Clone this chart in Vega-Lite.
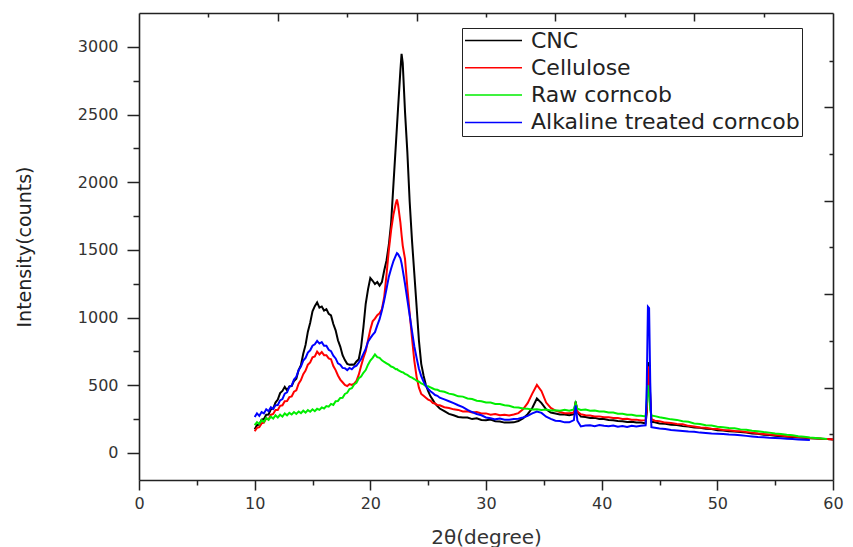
{
  "$schema": "https://vega.github.io/schema/vega-lite/v6.json",
  "width": 694,
  "height": 467,
  "autosize": "none",
  "padding": {"left": 139, "top": 13, "right": 20, "bottom": 67},
  "background": "white",
  "config": {"view": {"stroke": null}, "font": "DejaVu Sans"},
  "data": {"values": [
    {"x":10.0,"CNC":175,"Cellulose":160,"Raw corncob":205,"Alkaline treated corncob":265},
    {"x":10.2,"CNC":205,"Cellulose":185,"Raw corncob":228,"Alkaline treated corncob":292},
    {"x":10.4,"CNC":210,"Cellulose":190,"Raw corncob":214,"Alkaline treated corncob":274},
    {"x":10.6,"CNC":246,"Cellulose":218,"Raw corncob":242,"Alkaline treated corncob":302},
    {"x":10.8,"CNC":250,"Cellulose":224,"Raw corncob":230,"Alkaline treated corncob":292},
    {"x":11.0,"CNC":282,"Cellulose":256,"Raw corncob":258,"Alkaline treated corncob":322},
    {"x":11.2,"CNC":284,"Cellulose":248,"Raw corncob":244,"Alkaline treated corncob":308},
    {"x":11.4,"CNC":322,"Cellulose":282,"Raw corncob":268,"Alkaline treated corncob":338},
    {"x":11.6,"CNC":328,"Cellulose":288,"Raw corncob":254,"Alkaline treated corncob":324},
    {"x":11.8,"CNC":372,"Cellulose":318,"Raw corncob":278,"Alkaline treated corncob":352},
    {"x":12.0,"CNC":394,"Cellulose":318,"Raw corncob":262,"Alkaline treated corncob":354},
    {"x":12.2,"CNC":442,"Cellulose":348,"Raw corncob":282,"Alkaline treated corncob":388},
    {"x":12.4,"CNC":458,"Cellulose":352,"Raw corncob":268,"Alkaline treated corncob":398},
    {"x":12.6,"CNC":488,"Cellulose":382,"Raw corncob":292,"Alkaline treated corncob":438},
    {"x":12.8,"CNC":462,"Cellulose":384,"Raw corncob":278,"Alkaline treated corncob":448},
    {"x":13.0,"CNC":492,"Cellulose":412,"Raw corncob":296,"Alkaline treated corncob":488},
    {"x":13.2,"CNC":494,"Cellulose":418,"Raw corncob":284,"Alkaline treated corncob":498},
    {"x":13.4,"CNC":532,"Cellulose":452,"Raw corncob":302,"Alkaline treated corncob":542},
    {"x":13.6,"CNC":548,"Cellulose":462,"Raw corncob":288,"Alkaline treated corncob":562},
    {"x":13.8,"CNC":612,"Cellulose":512,"Raw corncob":306,"Alkaline treated corncob":612},
    {"x":14.0,"CNC":648,"Cellulose":538,"Raw corncob":294,"Alkaline treated corncob":638},
    {"x":14.2,"CNC":732,"Cellulose":582,"Raw corncob":312,"Alkaline treated corncob":682},
    {"x":14.4,"CNC":798,"Cellulose":608,"Raw corncob":298,"Alkaline treated corncob":702},
    {"x":14.6,"CNC":896,"Cellulose":652,"Raw corncob":316,"Alkaline treated corncob":742},
    {"x":14.8,"CNC":962,"Cellulose":668,"Raw corncob":304,"Alkaline treated corncob":758},
    {"x":15.0,"CNC":1046,"Cellulose":706,"Raw corncob":322,"Alkaline treated corncob":792},
    {"x":15.2,"CNC":1084,"Cellulose":712,"Raw corncob":308,"Alkaline treated corncob":802},
    {"x":15.4,"CNC":1112,"Cellulose":748,"Raw corncob":326,"Alkaline treated corncob":828},
    {"x":15.6,"CNC":1074,"Cellulose":728,"Raw corncob":318,"Alkaline treated corncob":808},
    {"x":15.8,"CNC":1082,"Cellulose":746,"Raw corncob":336,"Alkaline treated corncob":818},
    {"x":16.0,"CNC":1052,"Cellulose":722,"Raw corncob":328,"Alkaline treated corncob":792},
    {"x":16.2,"CNC":1062,"Cellulose":722,"Raw corncob":346,"Alkaline treated corncob":792},
    {"x":16.4,"CNC":1028,"Cellulose":698,"Raw corncob":342,"Alkaline treated corncob":762},
    {"x":16.6,"CNC":1016,"Cellulose":692,"Raw corncob":362,"Alkaline treated corncob":752},
    {"x":16.8,"CNC":952,"Cellulose":642,"Raw corncob":354,"Alkaline treated corncob":718},
    {"x":17.0,"CNC":906,"Cellulose":612,"Raw corncob":382,"Alkaline treated corncob":698},
    {"x":17.2,"CNC":832,"Cellulose":572,"Raw corncob":384,"Alkaline treated corncob":662},
    {"x":17.4,"CNC":786,"Cellulose":542,"Raw corncob":406,"Alkaline treated corncob":652},
    {"x":17.6,"CNC":722,"Cellulose":522,"Raw corncob":408,"Alkaline treated corncob":628},
    {"x":17.8,"CNC":686,"Cellulose":502,"Raw corncob":436,"Alkaline treated corncob":626},
    {"x":18.0,"CNC":658,"Cellulose":494,"Raw corncob":444,"Alkaline treated corncob":612},
    {"x":18.2,"CNC":652,"Cellulose":508,"Raw corncob":472,"Alkaline treated corncob":628},
    {"x":18.4,"CNC":654,"Cellulose":502,"Raw corncob":478,"Alkaline treated corncob":618},
    {"x":18.6,"CNC":652,"Cellulose":512,"Raw corncob":506,"Alkaline treated corncob":636},
    {"x":18.8,"CNC":676,"Cellulose":532,"Raw corncob":518,"Alkaline treated corncob":644},
    {"x":19.0,"CNC":692,"Cellulose":578,"Raw corncob":552,"Alkaline treated corncob":668},
    {"x":19.2,"CNC":782,"Cellulose":642,"Raw corncob":564,"Alkaline treated corncob":694},
    {"x":19.4,"CNC":928,"Cellulose":702,"Raw corncob":592,"Alkaline treated corncob":732},
    {"x":19.6,"CNC":1102,"Cellulose":752,"Raw corncob":612,"Alkaline treated corncob":768},
    {"x":19.8,"CNC":1208,"Cellulose":832,"Raw corncob":652,"Alkaline treated corncob":822},
    {"x":20.0,"CNC":1292,"Cellulose":912,"Raw corncob":682,"Alkaline treated corncob":848},
    {"x":20.2,"CNC":1272,"Cellulose":972,"Raw corncob":702,"Alkaline treated corncob":872},
    {"x":20.4,"CNC":1248,"Cellulose":992,"Raw corncob":728,"Alkaline treated corncob":892},
    {"x":20.6,"CNC":1262,"Cellulose":1018,"Raw corncob":708,"Alkaline treated corncob":942},
    {"x":20.8,"CNC":1236,"Cellulose":1032,"Raw corncob":702,"Alkaline treated corncob":988},
    {"x":21.0,"CNC":1262,"Cellulose":1062,"Raw corncob":684,"Alkaline treated corncob":1052},
    {"x":21.2,"CNC":1348,"Cellulose":1152,"Raw corncob":672,"Alkaline treated corncob":1128},
    {"x":21.4,"CNC":1422,"Cellulose":1318,"Raw corncob":662,"Alkaline treated corncob":1212},
    {"x":21.6,"CNC":1538,"Cellulose":1498,"Raw corncob":652,"Alkaline treated corncob":1302},
    {"x":21.8,"CNC":1702,"Cellulose":1648,"Raw corncob":638,"Alkaline treated corncob":1362},
    {"x":22.0,"CNC":1988,"Cellulose":1762,"Raw corncob":632,"Alkaline treated corncob":1418},
    {"x":22.2,"CNC":2268,"Cellulose":1842,"Raw corncob":618,"Alkaline treated corncob":1458},
    {"x":22.3,"CNC":2410,"Cellulose":1872,"Raw corncob":620,"Alkaline treated corncob":1476},
    {"x":22.4,"CNC":2552,"Cellulose":1832,"Raw corncob":612,"Alkaline treated corncob":1468},
    {"x":22.6,"CNC":2828,"Cellulose":1702,"Raw corncob":602,"Alkaline treated corncob":1438},
    {"x":22.7,"CNC":2948,"Cellulose":1612,"Raw corncob":598,"Alkaline treated corncob":1402},
    {"x":22.8,"CNC":2882,"Cellulose":1532,"Raw corncob":596,"Alkaline treated corncob":1352},
    {"x":23.0,"CNC":2518,"Cellulose":1432,"Raw corncob":584,"Alkaline treated corncob":1248},
    {"x":23.2,"CNC":2222,"Cellulose":1222,"Raw corncob":576,"Alkaline treated corncob":1132},
    {"x":23.4,"CNC":1858,"Cellulose":1032,"Raw corncob":564,"Alkaline treated corncob":1018},
    {"x":23.6,"CNC":1572,"Cellulose":852,"Raw corncob":556,"Alkaline treated corncob":902},
    {"x":23.8,"CNC":1328,"Cellulose":682,"Raw corncob":546,"Alkaline treated corncob":788},
    {"x":24.0,"CNC":1082,"Cellulose":562,"Raw corncob":534,"Alkaline treated corncob":702},
    {"x":24.2,"CNC":832,"Cellulose":482,"Raw corncob":526,"Alkaline treated corncob":622},
    {"x":24.4,"CNC":658,"Cellulose":436,"Raw corncob":514,"Alkaline treated corncob":568},
    {"x":24.6,"CNC":572,"Cellulose":422,"Raw corncob":506,"Alkaline treated corncob":528},
    {"x":24.8,"CNC":502,"Cellulose":408,"Raw corncob":494,"Alkaline treated corncob":494},
    {"x":25.0,"CNC":456,"Cellulose":394,"Raw corncob":492,"Alkaline treated corncob":472},
    {"x":25.2,"CNC":418,"Cellulose":386,"Raw corncob":484,"Alkaline treated corncob":456},
    {"x":25.4,"CNC":392,"Cellulose":368,"Raw corncob":476,"Alkaline treated corncob":442},
    {"x":25.6,"CNC":364,"Cellulose":366,"Raw corncob":468,"Alkaline treated corncob":428},
    {"x":25.8,"CNC":346,"Cellulose":354,"Raw corncob":466,"Alkaline treated corncob":422},
    {"x":26.0,"CNC":328,"Cellulose":352,"Raw corncob":458,"Alkaline treated corncob":408},
    {"x":26.4,"CNC":308,"Cellulose":338,"Raw corncob":452,"Alkaline treated corncob":396},
    {"x":26.8,"CNC":288,"Cellulose":332,"Raw corncob":438,"Alkaline treated corncob":382},
    {"x":27.2,"CNC":278,"Cellulose":322,"Raw corncob":432,"Alkaline treated corncob":368},
    {"x":27.6,"CNC":266,"Cellulose":318,"Raw corncob":418,"Alkaline treated corncob":352},
    {"x":28.0,"CNC":262,"Cellulose":306,"Raw corncob":416,"Alkaline treated corncob":338},
    {"x":28.4,"CNC":262,"Cellulose":308,"Raw corncob":402,"Alkaline treated corncob":318},
    {"x":28.8,"CNC":250,"Cellulose":298,"Raw corncob":398,"Alkaline treated corncob":302},
    {"x":29.2,"CNC":256,"Cellulose":302,"Raw corncob":386,"Alkaline treated corncob":288},
    {"x":29.6,"CNC":244,"Cellulose":292,"Raw corncob":382,"Alkaline treated corncob":278},
    {"x":30.0,"CNC":242,"Cellulose":292,"Raw corncob":372,"Alkaline treated corncob":262},
    {"x":30.4,"CNC":246,"Cellulose":282,"Raw corncob":372,"Alkaline treated corncob":256},
    {"x":30.8,"CNC":234,"Cellulose":288,"Raw corncob":362,"Alkaline treated corncob":248},
    {"x":31.2,"CNC":232,"Cellulose":278,"Raw corncob":362,"Alkaline treated corncob":254},
    {"x":31.6,"CNC":224,"Cellulose":282,"Raw corncob":352,"Alkaline treated corncob":246},
    {"x":32.0,"CNC":224,"Cellulose":276,"Raw corncob":348,"Alkaline treated corncob":246},
    {"x":32.4,"CNC":226,"Cellulose":284,"Raw corncob":338,"Alkaline treated corncob":250},
    {"x":32.8,"CNC":236,"Cellulose":294,"Raw corncob":336,"Alkaline treated corncob":252},
    {"x":33.2,"CNC":254,"Cellulose":322,"Raw corncob":328,"Alkaline treated corncob":262},
    {"x":33.6,"CNC":286,"Cellulose":368,"Raw corncob":326,"Alkaline treated corncob":274},
    {"x":34.0,"CNC":332,"Cellulose":438,"Raw corncob":320,"Alkaline treated corncob":292},
    {"x":34.4,"CNC":402,"Cellulose":502,"Raw corncob":322,"Alkaline treated corncob":306},
    {"x":34.8,"CNC":368,"Cellulose":456,"Raw corncob":318,"Alkaline treated corncob":296},
    {"x":35.2,"CNC":322,"Cellulose":372,"Raw corncob":320,"Alkaline treated corncob":268},
    {"x":35.6,"CNC":298,"Cellulose":332,"Raw corncob":314,"Alkaline treated corncob":252},
    {"x":36.0,"CNC":292,"Cellulose":312,"Raw corncob":316,"Alkaline treated corncob":238},
    {"x":36.4,"CNC":284,"Cellulose":302,"Raw corncob":312,"Alkaline treated corncob":236},
    {"x":36.8,"CNC":284,"Cellulose":294,"Raw corncob":318,"Alkaline treated corncob":226},
    {"x":37.2,"CNC":278,"Cellulose":294,"Raw corncob":312,"Alkaline treated corncob":226},
    {"x":37.6,"CNC":286,"Cellulose":298,"Raw corncob":322,"Alkaline treated corncob":242},
    {"x":37.75,"CNC":380,"Cellulose":372,"Raw corncob":368,"Alkaline treated corncob":352},
    {"x":37.9,"CNC":302,"Cellulose":306,"Raw corncob":326,"Alkaline treated corncob":238},
    {"x":38.2,"CNC":268,"Cellulose":286,"Raw corncob":318,"Alkaline treated corncob":196},
    {"x":38.6,"CNC":266,"Cellulose":278,"Raw corncob":320,"Alkaline treated corncob":202},
    {"x":39.0,"CNC":258,"Cellulose":276,"Raw corncob":312,"Alkaline treated corncob":204},
    {"x":39.4,"CNC":260,"Cellulose":270,"Raw corncob":314,"Alkaline treated corncob":198},
    {"x":39.8,"CNC":250,"Cellulose":270,"Raw corncob":306,"Alkaline treated corncob":206},
    {"x":40.2,"CNC":250,"Cellulose":264,"Raw corncob":306,"Alkaline treated corncob":200},
    {"x":40.6,"CNC":244,"Cellulose":264,"Raw corncob":298,"Alkaline treated corncob":198},
    {"x":41.0,"CNC":242,"Cellulose":258,"Raw corncob":298,"Alkaline treated corncob":202},
    {"x":41.4,"CNC":236,"Cellulose":258,"Raw corncob":290,"Alkaline treated corncob":194},
    {"x":41.8,"CNC":234,"Cellulose":250,"Raw corncob":290,"Alkaline treated corncob":198},
    {"x":42.2,"CNC":228,"Cellulose":252,"Raw corncob":282,"Alkaline treated corncob":192},
    {"x":42.6,"CNC":230,"Cellulose":246,"Raw corncob":282,"Alkaline treated corncob":200},
    {"x":43.0,"CNC":224,"Cellulose":246,"Raw corncob":274,"Alkaline treated corncob":196},
    {"x":43.4,"CNC":224,"Cellulose":240,"Raw corncob":274,"Alkaline treated corncob":200},
    {"x":43.8,"CNC":218,"Cellulose":242,"Raw corncob":270,"Alkaline treated corncob":204},
    {"x":43.9,"CNC":300,"Cellulose":320,"Raw corncob":380,"Alkaline treated corncob":500},
    {"x":44.0,"CNC":600,"Cellulose":560,"Raw corncob":500,"Alkaline treated corncob":1080},
    {"x":44.1,"CNC":670,"Cellulose":640,"Raw corncob":430,"Alkaline treated corncob":1070},
    {"x":44.2,"CNC":400,"Cellulose":400,"Raw corncob":320,"Alkaline treated corncob":520},
    {"x":44.3,"CNC":230,"Cellulose":250,"Raw corncob":276,"Alkaline treated corncob":190},
    {"x":44.6,"CNC":226,"Cellulose":238,"Raw corncob":272,"Alkaline treated corncob":186},
    {"x":45.0,"CNC":218,"Cellulose":234,"Raw corncob":264,"Alkaline treated corncob":180},
    {"x":45.5,"CNC":216,"Cellulose":224,"Raw corncob":256,"Alkaline treated corncob":176},
    {"x":46.0,"CNC":208,"Cellulose":222,"Raw corncob":248,"Alkaline treated corncob":170},
    {"x":46.5,"CNC":206,"Cellulose":214,"Raw corncob":244,"Alkaline treated corncob":166},
    {"x":47.0,"CNC":198,"Cellulose":212,"Raw corncob":234,"Alkaline treated corncob":162},
    {"x":47.5,"CNC":196,"Cellulose":200,"Raw corncob":230,"Alkaline treated corncob":158},
    {"x":48.0,"CNC":188,"Cellulose":196,"Raw corncob":218,"Alkaline treated corncob":156},
    {"x":48.5,"CNC":186,"Cellulose":188,"Raw corncob":214,"Alkaline treated corncob":150},
    {"x":49.0,"CNC":178,"Cellulose":186,"Raw corncob":204,"Alkaline treated corncob":148},
    {"x":49.5,"CNC":176,"Cellulose":178,"Raw corncob":202,"Alkaline treated corncob":144},
    {"x":50.0,"CNC":168,"Cellulose":176,"Raw corncob":194,"Alkaline treated corncob":142},
    {"x":50.5,"CNC":166,"Cellulose":170,"Raw corncob":190,"Alkaline treated corncob":140},
    {"x":51.0,"CNC":160,"Cellulose":168,"Raw corncob":184,"Alkaline treated corncob":136},
    {"x":51.5,"CNC":158,"Cellulose":162,"Raw corncob":182,"Alkaline treated corncob":134},
    {"x":52.0,"CNC":154,"Cellulose":160,"Raw corncob":174,"Alkaline treated corncob":130},
    {"x":52.5,"CNC":150,"Cellulose":154,"Raw corncob":172,"Alkaline treated corncob":126},
    {"x":53.0,"CNC":144,"Cellulose":150,"Raw corncob":164,"Alkaline treated corncob":122},
    {"x":53.5,"CNC":142,"Cellulose":144,"Raw corncob":160,"Alkaline treated corncob":118},
    {"x":54.0,"CNC":134,"Cellulose":140,"Raw corncob":154,"Alkaline treated corncob":116},
    {"x":54.5,"CNC":132,"Cellulose":136,"Raw corncob":150,"Alkaline treated corncob":112},
    {"x":55.0,"CNC":126,"Cellulose":132,"Raw corncob":144,"Alkaline treated corncob":110},
    {"x":55.5,"CNC":124,"Cellulose":128,"Raw corncob":140,"Alkaline treated corncob":108},
    {"x":56.0,"CNC":120,"Cellulose":124,"Raw corncob":134,"Alkaline treated corncob":104},
    {"x":56.5,"CNC":118,"Cellulose":122,"Raw corncob":130,"Alkaline treated corncob":102},
    {"x":57.0,"CNC":114,"Cellulose":118,"Raw corncob":124,"Alkaline treated corncob":100},
    {"x":57.5,"CNC":112,"Cellulose":114,"Raw corncob":120,"Alkaline treated corncob":98},
    {"x":58.0,"CNC":108,"Cellulose":110,"Raw corncob":114,"Alkaline treated corncob":96},
    {"x":58.5,"CNC":106,"Cellulose":108,"Raw corncob":110,"Alkaline treated corncob":null},
    {"x":59.0,"CNC":104,"Cellulose":104,"Raw corncob":106,"Alkaline treated corncob":null},
    {"x":59.5,"CNC":102,"Cellulose":102,"Raw corncob":102,"Alkaline treated corncob":null},
    {"x":60.0,"CNC":100,"Cellulose":100,"Raw corncob":null,"Alkaline treated corncob":null}
  ]},
  "transform": [
    {"fold": ["CNC", "Cellulose", "Raw corncob", "Alkaline treated corncob"], "as": ["series", "y"]},
    {"filter": {"field": "y", "valid": true}}
  ],
  "layer": [
    {
      "mark": {"type": "line", "strokeWidth": 2, "clip": true},
      "encoding": {
        "x": {
          "field": "x", "type": "quantitative",
          "scale": {"domain": [0, 60], "nice": false, "zero": false},
          "axis": {
            "orient": "bottom",
            "values": [0,5,10,15,20,25,30,35,40,45,50,55,60],
            "labelExpr": "datum.value % 10 == 0 ? datum.label : ''",
            "tickSize": {"condition": {"test": "datum.value % 10 == 0", "value": 10}, "value": 5},
            "grid": false,
            "domainColor": "#222", "domainWidth": 1.6,
            "tickColor": "#222", "tickWidth": 1.5,
            "labelFont": "DejaVu Sans", "labelFontSize": 16, "labelColor": "#333",
            "labelPadding": 5, "labelFlush": false, "labelOverlap": false,
            "title": "2θ(degree)",
            "titleFont": "DejaVu Sans", "titleFontSize": 20, "titleFontWeight": "normal",
            "titleColor": "#333", "titlePadding": 16
          }
        },
        "y": {
          "field": "y", "type": "quantitative",
          "scale": {"domain": [-200, 3250], "nice": false, "zero": false},
          "axis": {
            "orient": "left",
            "values": [0,250,500,750,1000,1250,1500,1750,2000,2250,2500,2750,3000],
            "labelExpr": "datum.value % 500 == 0 ? datum.label : ''",
            "format": "d",
            "tickSize": {"condition": {"test": "datum.value % 500 == 0", "value": 12}, "value": 6},
            "grid": false,
            "domainColor": "#222", "domainWidth": 1.6,
            "tickColor": "#222", "tickWidth": 1.5,
            "labelFont": "DejaVu Sans", "labelFontSize": 16, "labelColor": "#333",
            "labelPadding": 9, "labelFlush": false, "labelOverlap": false,
            "title": "Intensity(counts)",
            "titleFont": "DejaVu Sans", "titleFontSize": 19, "titleFontWeight": "normal",
            "titleColor": "#222", "titlePadding": 43
          }
        },
        "color": {
          "field": "series", "type": "nominal",
          "scale": {
            "domain": ["CNC", "Cellulose", "Raw corncob", "Alkaline treated corncob"],
            "range": ["#000000", "#ff0000", "#00ee00", "#0000ff"]
          },
          "legend": {
            "orient": "none", "legendX": 323, "legendY": 15,
            "title": null,
            "symbolType": "stroke", "symbolSize": 3249, "symbolStrokeWidth": 1.5,
            "clipHeight": 21, "rowPadding": 4.3,
            "labelFont": "DejaVu Sans", "labelFontSize": 22, "labelColor": "#222",
            "labelOffset": 8, "labelLimit": 400,
            "padding": 2, "strokeColor": "#222", "fillColor": "white"
          }
        }
      }
    },
    {
      "mark": {"type": "rule", "opacity": 0},
      "encoding": {
        "x": {
          "field": "x", "type": "quantitative",
          "scale": {"domain": [0, 60], "nice": false, "zero": false},
          "axis": {
            "orient": "top",
            "values": [6,12,18,24,30,36,42,48,54],
            "labels": false, "title": null, "grid": false,
            "tickSize": {"condition": {"test": "datum.value % 12 == 0", "value": -8}, "value": -4},
            "domainColor": "#222", "domainWidth": 1.6,
            "tickColor": "#222", "tickWidth": 1.5
          }
        }
      }
    },
    {
      "mark": {"type": "rule", "opacity": 0},
      "encoding": {
        "y": {
          "field": "y", "type": "quantitative",
          "scale": {"domain": [-200, 3250], "nice": false, "zero": false},
          "axis": {
            "orient": "right",
            "values": [138,483,828,1173,1518,1863,2208,2553,2898],
            "labels": false, "title": null, "grid": false,
            "tickSize": {"condition": {"test": "indexof([483,1173,1863,2553], datum.value) >= 0", "value": -9}, "value": -4},
            "domainColor": "#222", "domainWidth": 1.6,
            "tickColor": "#222", "tickWidth": 1.5
          }
        }
      }
    }
  ],
  "resolve": {"axis": {"x": "independent", "y": "independent"}}
}
